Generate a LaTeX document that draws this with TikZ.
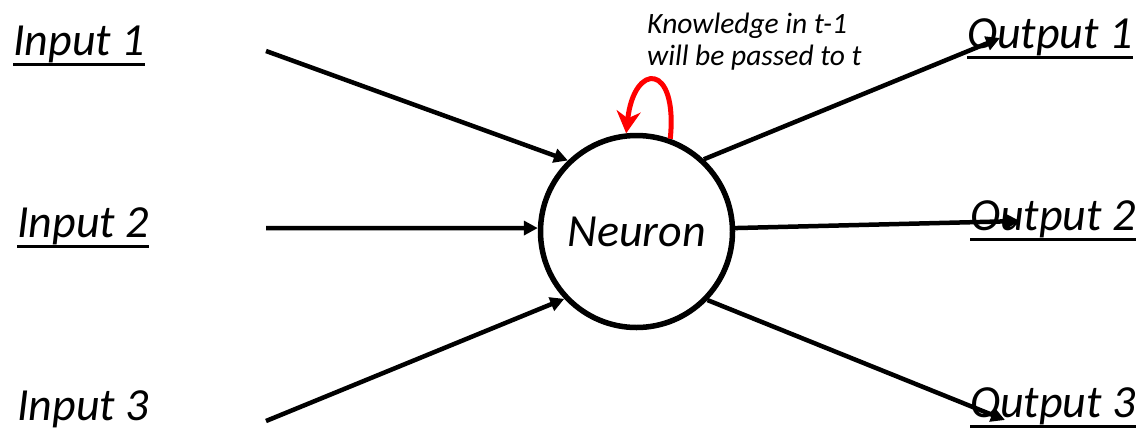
\documentclass[tikz,border=0pt]{standalone}
\usepackage{fontspec}
\setmainfont{Carlito}
\usetikzlibrary{arrows.meta}

\begin{document}
\begin{tikzpicture}[x=1pt,y=-1pt,
  lbl/.style={anchor=base west,inner sep=0pt,font=\fontsize{46}{55}\selectfont\itshape},
  arr/.style={line width=4.5pt,-{Triangle[length=14pt,width=14pt]}},
  uline/.style={line width=3pt}]
\useasboundingbox (0,0) rectangle (1143,429);

%neuron
\node[circle,draw,line width=5.5pt,minimum size=192pt,inner sep=0pt,
  font=\fontsize{46}{55}\selectfont\itshape] (neuron) at (636.5,231.5) {Neuron};

%labels
\node[lbl] (in1) at (13,55) {Input 1};
\node[lbl] (in2) at (17,237) {Input 2};
\node[lbl] (in3) at (17,420) {Input 3};
\node[lbl] (out1) at (967,48) {Output 1};
\node[lbl] (out2) at (970,230) {Output 2};
\node[lbl] (out3) at (970,417) {Output 3};
\foreach \n in {in1,in2,out1,out2,out3}
  \draw[uline] ([yshift=-9pt]\n.base west) -- ([yshift=-9pt]\n.base east);

%note
\node[anchor=north west,inner sep=0pt,align=left,
  font=\fontsize{29.5}{32}\selectfont\itshape] (note) at (647,13)
  {Knowledge in t-1\\will be passed to t};

%arrow ends
\coordinate (t1) at (266,51);
\coordinate (t2) at (266,228);
\coordinate (t3) at (266,421);
\coordinate (h1) at (1000,38);
\coordinate (h2) at (1020,221);
\coordinate (h3) at (1005,420);

%inputs
\draw[arr] (t1) -- (neuron.134);
\draw[arr] (t2) -- (neuron.178);
\draw[arr] (t3) -- (neuron.223);

%outputs
\draw[arr] (neuron.47) -- (h1);
\draw[arr] (neuron.2) -- (h2);
\draw[arr] (neuron.316) -- (h3);

%loop t-1 -> t
\draw[red,line width=5pt,-{Stealth[length=22pt,width=24pt,inset=7pt]}]
  (neuron.70) .. controls (678,62) and (634,62) .. (neuron.96);
\end{tikzpicture}
\end{document}
